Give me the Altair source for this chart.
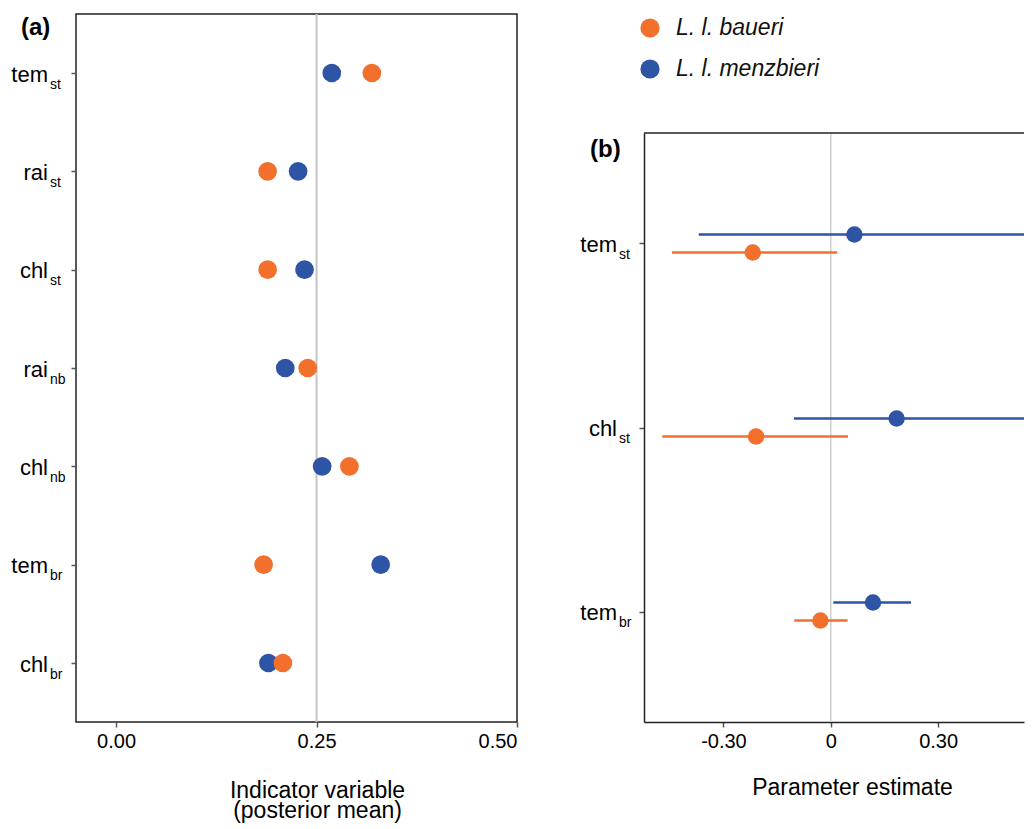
import altair as alt
import pandas as pd

FONT = "Liberation Sans"

# ---------------- data ----------------
species = ["L. l. baueri", "L. l. menzbieri"]
colors = ["#F26F2C", "#2E54A5"]

cats_a = ["tem_st", "rai_st", "chl_st", "rai_nb", "chl_nb", "tem_br", "chl_br"]
main_a = ["tem", "rai", "chl", "rai", "chl", "tem", "chl"]
sub_a = ["st", "st", "st", "nb", "nb", "br", "br"]
baueri_a = [0.319, 0.189, 0.189, 0.239, 0.291, 0.184, 0.208]
menz_a = [0.269, 0.227, 0.235, 0.211, 0.257, 0.330, 0.190]

cats_b = ["tem_st", "chl_st", "tem_br"]
main_b = ["tem", "chl", "tem"]
sub_b = ["st", "st", "br"]
baueri_est = [-0.218, -0.209, -0.029]
baueri_lo = [-0.444, -0.471, -0.102]
baueri_hi = [0.018, 0.048, 0.047]
menz_est = [0.066, 0.184, 0.118]
menz_lo = [-0.369, -0.103, 0.007]
menz_hi = [0.554, 0.563, 0.224]

ticks_a = [0, 0.25, 0.5]
ticks_b = [-0.3, 0, 0.3]
ref_a = [0.25]
ref_b = [0.0]
panel_labels = ["(a)", "(b)"]
x_title_a = ["Indicator variable", "(posterior mean)"]
x_title_b = "Parameter estimate"

# ---------------- tables ----------------
df_a = pd.DataFrame({
    "cat": cats_a + cats_a,
    "species": [species[1]] * len(cats_a) + [species[0]] * len(cats_a),
    "value": menz_a + baueri_a,
})
lab_a = pd.DataFrame({"cat": cats_a, "main": main_a, "sub": sub_a})
df_b = pd.DataFrame({
    "cat": cats_b + cats_b,
    "species": [species[1]] * len(cats_b) + [species[0]] * len(cats_b),
    "est": menz_est + baueri_est,
    "lo": menz_lo + baueri_lo,
    "hi": menz_hi + baueri_hi,
})
lab_b = pd.DataFrame({"cat": cats_b, "main": main_b, "sub": sub_b})
leg_df = pd.DataFrame({"species": species})

color_scale = alt.Scale(domain=species, range=colors)
color_enc = alt.Color("species:N", scale=color_scale, legend=None)

WA, HA = 441, 708
WB, HB = 380, 589

# ---------------- panel (a) ----------------
xa = alt.Scale(domain=[-0.05, 0.5], nice=False, zero=False)
ya = alt.Scale(type="point", domain=cats_a, padding=0.6)
x_axis_a = alt.Axis(values=ticks_a, format=".2f", title=x_title_a, grid=False, domain=False,
                    tickColor="#555", tickSize=5, tickWidth=1.5, labelFontSize=20, labelPadding=4,
                    labelColor="black", titleColor="black", titleFontSize=23, titleFontWeight="normal",
                    titleX=241, titleY=75, titleBaseline="alphabetic", titleLineHeight=20,
                    labelFont=FONT, titleFont=FONT)
y_axis_a = alt.Axis(labels=False, title="", grid=False, domain=False, tickColor="#555",
                    tickSize=5, tickWidth=1.5)

ref_a_layer = alt.Chart(pd.DataFrame({"v": ref_a})).mark_rule(color="#c4c4c4", strokeWidth=2).encode(
    x=alt.X("v:Q", scale=xa, axis=x_axis_a))
pts_a = alt.Chart(df_a).mark_circle(size=350, opacity=1).encode(
    x=alt.X("value:Q", scale=xa, axis=x_axis_a),
    y=alt.Y("cat:N", scale=ya, axis=y_axis_a),
    color=color_enc,
    order=alt.Order("species:N", sort="descending"),
)
main_txt_a = alt.Chart(lab_a).mark_text(align="right", baseline="alphabetic", fontSize=22, font=FONT,
                                        dy=8.5, color="black").encode(
    x=alt.value(-28), y=alt.Y("cat:N", scale=ya, axis=y_axis_a), text="main:N")
sub_txt_a = alt.Chart(lab_a).mark_text(align="left", baseline="alphabetic", fontSize=14, font=FONT,
                                       dy=15.5, color="black").encode(
    x=alt.value(-26), y=alt.Y("cat:N", scale=ya, axis=y_axis_a), text="sub:N")
plab_a = alt.Chart(pd.DataFrame({"t": [panel_labels[0]]})).mark_text(
    align="left", baseline="middle", fontSize=24, fontWeight="bold", font=FONT, color="black").encode(
    x=alt.value(-55), y=alt.value(14), text="t:N")

panel_a = alt.layer(ref_a_layer, pts_a, main_txt_a, sub_txt_a, plab_a).properties(
    width=WA, height=HA, view=alt.ViewBackground(stroke="#222", strokeWidth=1.5))

# ---------------- legend ----------------
ly = alt.Scale(type="point", domain=species, range=[14, 55], padding=0)
leg_pts = alt.Chart(leg_df).mark_circle(size=370, opacity=1).encode(
    x=alt.value(6), y=alt.Y("species:N", scale=ly, axis=None), color=color_enc)
leg_txt = alt.Chart(leg_df).mark_text(align="left", baseline="middle", fontSize=23, fontStyle="italic",
                                      font=FONT, color="#111").encode(
    x=alt.value(32), y=alt.Y("species:N", scale=ly, axis=None), text="species:N")
legend_chart = alt.layer(leg_pts, leg_txt).properties(
    width=WB, height=70, view=alt.ViewBackground(stroke="transparent"))

# ---------------- panel (b) ----------------
xb = alt.Scale(domain=[-0.522, 0.540], nice=False, zero=False)
yb = alt.Scale(type="point", domain=cats_b, padding=0.6)
x_axis_b = alt.Axis(values=ticks_b,
                    labelExpr="datum.value == 0 ? '0' : (datum.value < 0 ? '-' + format(-datum.value, '.2f') : format(datum.value, '.2f'))",
                    title=x_title_b, grid=False, domain=True, domainColor="#222", domainWidth=1.5,
                    tickColor="#555", tickSize=5, tickWidth=1.5, labelFontSize=20, labelPadding=4,
                    labelColor="black", titleColor="black", titleFontSize=23, titleFontWeight="normal",
                    titleX=208, titleY=72, titleBaseline="alphabetic",
                    labelFont=FONT, titleFont=FONT)
y_axis_b = alt.Axis(labels=False, title="", grid=False, domain=True, domainColor="#222", domainWidth=1.5,
                    tickColor="#555", tickSize=5, tickWidth=1.5)

ref_b_layer = alt.Chart(pd.DataFrame({"v": ref_b})).mark_rule(color="#d0d0d0", strokeWidth=1.5).encode(
    x=alt.X("v:Q", scale=xb, axis=x_axis_b))
top_border = alt.Chart(pd.DataFrame({"v": ref_b})).mark_rule(color="#222", strokeWidth=1.5).encode(
    x=alt.value(0), x2=alt.value(WB), y=alt.value(0))


def species_layers(sp, off):
    rules = alt.Chart(df_b).transform_filter(alt.datum.species == sp).mark_rule(
        strokeWidth=2.5, yOffset=off, clip=True).encode(
        x=alt.X("lo:Q", scale=xb, axis=x_axis_b), x2="hi:Q",
        y=alt.Y("cat:N", scale=yb, axis=y_axis_b), color=color_enc)
    pts = alt.Chart(df_b).transform_filter(alt.datum.species == sp).mark_circle(
        size=270, opacity=1, yOffset=off).encode(
        x=alt.X("est:Q", scale=xb, axis=x_axis_b),
        y=alt.Y("cat:N", scale=yb, axis=y_axis_b), color=color_enc)
    return [rules, pts]


main_txt_b = alt.Chart(lab_b).mark_text(align="right", baseline="alphabetic", fontSize=22, font=FONT,
                                        dy=8.5, color="black").encode(
    x=alt.value(-27), y=alt.Y("cat:N", scale=yb, axis=y_axis_b), text="main:N")
sub_txt_b = alt.Chart(lab_b).mark_text(align="left", baseline="alphabetic", fontSize=14, font=FONT,
                                       dy=15.5, color="black").encode(
    x=alt.value(-25), y=alt.Y("cat:N", scale=yb, axis=y_axis_b), text="sub:N")
plab_b = alt.Chart(pd.DataFrame({"t": [panel_labels[1]]})).mark_text(
    align="left", baseline="middle", fontSize=24, fontWeight="bold", font=FONT, color="black").encode(
    x=alt.value(-54), y=alt.value(17), text="t:N")

panel_b = alt.layer(ref_b_layer, top_border,
                    *species_layers(species[1], -9), *species_layers(species[0], 9),
                    main_txt_b, sub_txt_b, plab_b).properties(
    width=WB, height=HB, view=alt.ViewBackground(stroke="transparent"))

right = alt.vconcat(legend_chart, panel_b, spacing=49, bounds="flush").resolve_scale(
    x="independent", y="independent")
chart = alt.hconcat(panel_a, right, spacing=127, bounds="flush").resolve_scale(
    x="independent", y="independent").properties(
    padding={"left": 2, "top": 4, "right": 0, "bottom": 0}).configure(font=FONT)

chart.save("out.html", embed_options={"renderer": "svg", "actions": False})
